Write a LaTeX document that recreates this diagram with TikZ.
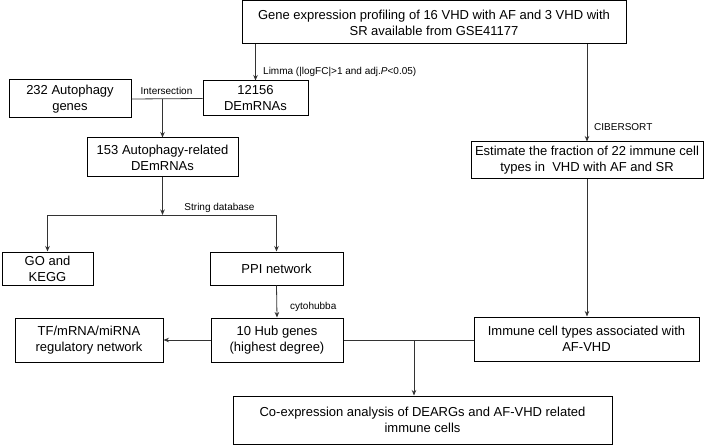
\documentclass[tikz,border=0pt]{standalone}
\usepackage{fontspec}
\setmainfont{Liberation Sans}
\usetikzlibrary{arrows.meta}
\begin{document}
\begin{tikzpicture}[x=1pt,y=-1pt,
  box/.style={draw=black,line width=1pt,fill=white,align=center,inner sep=1pt,
    font=\fontsize{13}{16}\selectfont},
  lab/.style={font=\fontsize{10}{12}\selectfont,inner sep=0pt},
  conn/.style={draw=black!80,line width=0.8pt},
  arr/.style={conn,-{Stealth[length=5.5pt,width=4.5pt]}}]
\useasboundingbox[fill=white] (0,0) rectangle (708,446);
\node[box,minimum width=384pt,minimum height=43pt] (top) at (434,22.5)
  {Gene expression profiling of 16 VHD with AF and 3 VHD with\\SR available from GSE41177};
\node[box,minimum width=105pt,minimum height=35pt] (deg) at (255.5,98.5) {12156\\DEmRNAs};
\node[box,minimum width=122pt,minimum height=38pt] (aut) at (70,99) {232 Autophagy\\genes};
\node[box,minimum width=151pt,minimum height=39pt] (ar) at (162.5,157.5) {153 Autophagy-related\\DEmRNAs};
\node[box,minimum width=91pt,minimum height=33pt] (go) at (47.5,268.5) {GO and\\KEGG};
\node[box,minimum width=133pt,minimum height=33pt] (ppi) at (276.5,268.5) {PPI network};
\node[box,minimum width=132pt,minimum height=44pt] (hub) at (277,340) {10 Hub genes\\(highest degree)};
\node[box,minimum width=148pt,minimum height=44pt] (tf) at (89,340) {TF/mRNA/miRNA\\regulatory network};
\node[box,minimum width=232pt,minimum height=37pt] (est) at (587,160.5)
  {Estimate the fraction of 22 immune cell\\types in\ \ VHD with AF and SR};
\node[box,minimum width=225pt,minimum height=44pt] (imm) at (586.5,339)
  {Immune cell types associated with\\AF-VHD};
\node[box,minimum width=379pt,minimum height=48pt] (co) at (422.5,420)
  {Co-expression analysis of DEARGs and AF-VHD related\\immune cells};
% connectors
\draw[arr] (deg.north |- top.south) -- (deg.north);
\node[lab,anchor=west] (limma) at (263,72) {Limma (|logFC|>1 and adj.\textit{P}<0.05)};
\draw[conn] (aut.east) -- (deg.west);
\node[lab] (inter) at (166.5,91) {Intersection};
\coordinate (j1) at (ar.north |- aut.east);
\draw[arr] (j1) -- (ar.north);
\coordinate (j2) at (162.5,215);
\draw[arr] (ar.south) -- (j2);
\coordinate (jl) at (go.north |- j2);
\coordinate (jr) at (ppi.north |- j2);
\draw[conn] (jl) -- (jr);
\draw[arr] (jl) -- (go.north);
\draw[arr] (jr) -- (ppi.north);
\node[lab] (str) at (219.5,208) {String database};
\draw[arr] (ppi.south) -- (hub.north);
\node[lab,anchor=west] (cyto) at (290,307) {cytohubba};
\draw[arr] (hub.west) -- (tf.east);
\draw[conn] (hub.east) -- (imm.west |- hub.east);
\coordinate (j3) at (414,340);
\draw[arr] (j3) -- (j3 |- co.north);
\draw[arr] (est.north |- top.south) -- (est.north);
\node[lab,anchor=west] (cib) at (594,127) {CIBERSORT};
\draw[arr] (est.south) -- (est.south |- imm.north);
\end{tikzpicture}
\end{document}
